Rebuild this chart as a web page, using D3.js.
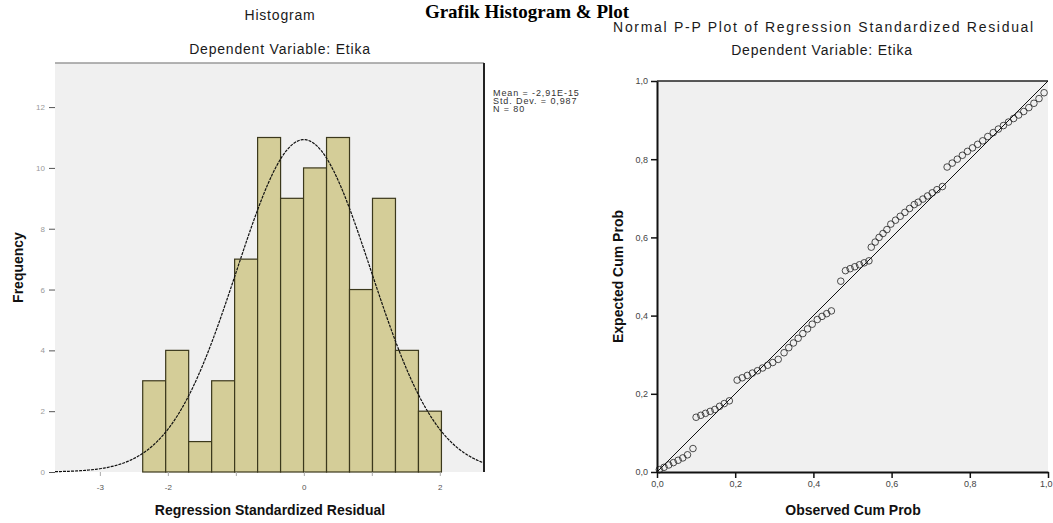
<!DOCTYPE html>
<html>
<head>
<meta charset="utf-8">
<script src="https://cdn.jsdelivr.net/npm/d3@7"></script>
<style>
  body { margin: 0; background: #fff; }
  svg text { font-family: "Liberation Sans", Arial, sans-serif; }
</style>
</head>
<body>
<svg id="chart" width="1053" height="523"></svg>
<script>
// histogram of regression standardized residual
const binStart = -2.37;
const binWidth = 0.338;
const binCounts = [3, 4, 1, 3, 7, 11, 9, 10, 11, 6, 9, 4, 2];
const histXTicks = [-3, -2, -1, 0, 1, 2];
const histXLabels = ['-3', '-2', '', '0', '', '2'];
const histYTicks = [0, 2, 4, 6, 8, 10, 12];
const statMean = -2.91e-15;
const statSd = 0.987;
const statN = 80;
const legendLines = ['Mean = -2,91E-15', 'Std. Dev. = 0,987', 'N = 80'];

// normal p-p plot, observed vs expected cum prob
const ppObserved = [
  0.006, 0.018, 0.03, 0.042, 0.054, 0.066, 0.078, 0.092,
  0.10, 0.112, 0.124, 0.136, 0.148, 0.16, 0.172, 0.185,
  0.205, 0.218, 0.231, 0.244, 0.257, 0.27, 0.283, 0.296, 0.31,
  0.325, 0.337, 0.349, 0.361, 0.373, 0.385, 0.397,
  0.41, 0.422, 0.434, 0.446,
  0.47,
  0.482, 0.494, 0.506, 0.518, 0.53, 0.542,
  0.548, 0.558, 0.568, 0.578, 0.588,
  0.598, 0.61, 0.622, 0.634, 0.646, 0.658,
  0.668, 0.68, 0.692, 0.704, 0.716, 0.73,
  0.742, 0.755, 0.768, 0.781, 0.794, 0.807, 0.82, 0.833, 0.846,
  0.86, 0.873, 0.886, 0.899, 0.912, 0.925, 0.938, 0.951, 0.964, 0.977, 0.99
];
const ppExpected = [
  0.006, 0.012, 0.018, 0.024, 0.03, 0.036, 0.044, 0.06,
  0.14, 0.145, 0.15, 0.155, 0.16, 0.168, 0.175, 0.182,
  0.235, 0.241, 0.247, 0.253, 0.259, 0.266, 0.273, 0.28, 0.288,
  0.305, 0.318, 0.33, 0.342, 0.354, 0.366, 0.378,
  0.39, 0.398, 0.405, 0.412,
  0.488,
  0.515, 0.52, 0.525, 0.53, 0.535, 0.54,
  0.575, 0.588, 0.6, 0.61, 0.62,
  0.634, 0.644, 0.654, 0.664, 0.674, 0.684,
  0.69, 0.698, 0.706, 0.714, 0.722, 0.73,
  0.78, 0.79, 0.8, 0.81, 0.82, 0.829, 0.838, 0.847, 0.858,
  0.868, 0.877, 0.886, 0.895, 0.904, 0.913, 0.922, 0.932, 0.943, 0.955, 0.97
];
const ppTicks = [0, 0.2, 0.4, 0.6, 0.8, 1];

const svg = d3.select('#chart');
const commaFmt = v => d3.format('.1f')(v).replace('.', ',');

svg.append('rect').attr('width', 1053).attr('height', 523).attr('fill', '#fff');

// page title
svg.append('text')
  .attr('x', 527).attr('y', 18)
  .attr('text-anchor', 'middle')
  .style('font-family', '"Liberation Serif", "Times New Roman", serif')
  .style('font-weight', 'bold')
  .style('font-size', '19px')
  .text('Grafik Histogram & Plot');

drawHistogram();
drawPPPlot();

// spss-ish title text: wide and slightly spaced
function titleText(g, x, y, str, spacing) {
  return g.append('text').attr('x', x).attr('y', y).attr('text-anchor', 'middle')
    .style('font-size', '14px').style('letter-spacing', spacing + 'px')
    .attr('fill', '#1a1a1a').text(str);
}

function drawHistogram() {
  const x = d3.scaleLinear().domain([-3.66, 2.65]).range([55, 484]);
  const y = d3.scaleLinear().domain([0, 13.45]).range([472, 63]);
  const g = svg.append('g');

  titleText(g, 280, 20, 'Histogram', 0.8);
  titleText(g, 280, 54, 'Dependent Variable: Etika', 0.8);

  g.append('rect')
    .attr('x', x.range()[0]).attr('y', y.range()[1])
    .attr('width', x.range()[1] - x.range()[0])
    .attr('height', y.range()[0] - y.range()[1])
    .attr('fill', '#f0f0f0');
  g.append('line')
    .attr('x1', x.range()[0]).attr('x2', x.range()[1])
    .attr('y1', y.range()[1]).attr('y2', y.range()[1])
    .attr('stroke', '#9a9a9a').attr('stroke-width', 1.5);

  // bars
  g.selectAll('rect.bar').data(binCounts).enter().append('rect')
    .attr('class', 'bar')
    .attr('x', (d, i) => x(binStart + i * binWidth))
    .attr('y', d => y(d))
    .attr('width', x(binStart + binWidth) - x(binStart))
    .attr('height', d => y(0) - y(d))
    .attr('fill', '#d4cd98')
    .attr('stroke', '#3b381c')
    .attr('stroke-width', 1.2);

  // fitted normal curve
  const scale = statN * binWidth / (statSd * Math.sqrt(2 * Math.PI));
  const xs = d3.range(x.domain()[0], x.domain()[1] + 0.001, 0.02);
  const line = d3.line()
    .x(v => x(v))
    .y(v => y(scale * Math.exp(-0.5 * Math.pow((v - statMean) / statSd, 2))));
  g.append('path').datum(xs).attr('d', line)
    .attr('fill', 'none').attr('stroke', '#111')
    .attr('stroke-width', 1.2).attr('stroke-dasharray', '3,1');

  // right border
  g.append('line')
    .attr('x1', x.range()[1]).attr('x2', x.range()[1])
    .attr('y1', y.range()[1]).attr('y2', y.range()[0])
    .attr('stroke', '#222').attr('stroke-width', 2);

  // y axis
  const ya = g.append('g').attr('transform', 'translate(' + x.range()[0] + ',0)')
    .call(d3.axisLeft(y).tickValues(histYTicks).tickSize(6).tickPadding(4));
  ya.select('.domain').remove();
  ya.selectAll('line').attr('stroke', '#555');
  ya.selectAll('text').attr('fill', '#9a9a9a').style('font-size', '8px');

  // x axis
  const xa = g.append('g').attr('transform', 'translate(0,' + y.range()[0] + ')')
    .call(d3.axisBottom(x).tickValues(histXTicks).tickSize(4).tickPadding(8)
      .tickFormat((d, i) => histXLabels[i]));
  xa.select('.domain').remove();
  xa.selectAll('line').attr('stroke', '#aaa');
  xa.selectAll('text').attr('fill', '#555').style('font-size', '8px');

  g.append('text').attr('x', 270).attr('y', 515).attr('text-anchor', 'middle')
    .style('font-size', '14px').style('font-weight', 'bold').attr('fill', '#111')
    .text('Regression Standardized Residual');
  g.append('text')
    .attr('transform', 'translate(23,' + (y.range()[0] + y.range()[1]) / 2 + ') rotate(-90)')
    .attr('text-anchor', 'middle')
    .style('font-size', '14px').style('font-weight', 'bold').attr('fill', '#111')
    .text('Frequency');

  // stats legend
  g.selectAll('text.legend').data(legendLines).enter().append('text')
    .attr('class', 'legend')
    .attr('x', 493).attr('y', (d, i) => 96 + i * 8)
    .style('font-size', '9px').style('letter-spacing', '0.9px').attr('fill', '#333')
    .text(d => d);
}

function drawPPPlot() {
  const x = d3.scaleLinear().domain([0, 1]).range([657, 1048]);
  const y = d3.scaleLinear().domain([0, 1]).range([472, 81]);
  const g = svg.append('g');

  titleText(g, 824, 32, 'Normal P-P Plot of Regression Standardized Residual', 1.7);
  titleText(g, 822, 55, 'Dependent Variable: Etika', 0.8);

  g.append('rect')
    .attr('x', x.range()[0]).attr('y', y.range()[1])
    .attr('width', x.range()[1] - x.range()[0])
    .attr('height', y.range()[0] - y.range()[1])
    .attr('fill', '#f0f0f0');
  g.append('line')
    .attr('x1', x.range()[0]).attr('x2', x.range()[1])
    .attr('y1', y.range()[1]).attr('y2', y.range()[1])
    .attr('stroke', '#222').attr('stroke-width', 1.5);

  // reference diagonal
  g.append('line')
    .attr('x1', x(0)).attr('y1', y(0)).attr('x2', x(1)).attr('y2', y(1))
    .attr('stroke', '#111').attr('stroke-width', 1);

  g.selectAll('circle').data(ppObserved).enter().append('circle')
    .attr('cx', d => x(d))
    .attr('cy', (d, i) => y(ppExpected[i]))
    .attr('r', 3.3)
    .attr('fill', 'none').attr('stroke', '#222').attr('stroke-width', 0.8);

  const xa = g.append('g').attr('transform', 'translate(0,' + y.range()[0] + ')')
    .call(d3.axisBottom(x).tickValues(ppTicks).tickFormat(commaFmt).tickSize(6).tickSizeOuter(0));
  xa.select('.domain').attr('stroke', '#111').attr('stroke-width', 2);
  xa.selectAll('line').attr('stroke', '#111').attr('stroke-width', 1.5);
  xa.selectAll('text').attr('fill', '#444').style('font-size', '9px');
  // last label sits at the page edge, keep it inside
  xa.selectAll('text').filter(d => d === 1).attr('text-anchor', 'end').attr('dx', '4');

  const ya = g.append('g').attr('transform', 'translate(' + x.range()[0] + ',0)')
    .call(d3.axisLeft(y).tickValues(ppTicks).tickFormat(commaFmt).tickSize(6).tickSizeOuter(0));
  ya.select('.domain').attr('stroke', '#111').attr('stroke-width', 2);
  ya.selectAll('line').attr('stroke', '#111').attr('stroke-width', 1.5);
  ya.selectAll('text').attr('fill', '#444').style('font-size', '9px');

  g.append('text').attr('x', 853).attr('y', 515).attr('text-anchor', 'middle')
    .style('font-size', '14px').style('font-weight', 'bold').attr('fill', '#111')
    .text('Observed Cum Prob');
  g.append('text')
    .attr('transform', 'translate(623,' + (y.range()[0] + y.range()[1]) / 2 + ') rotate(-90)')
    .attr('text-anchor', 'middle')
    .style('font-size', '14px').style('font-weight', 'bold').attr('fill', '#111')
    .text('Expected Cum Prob');
}
</script>
</body>
</html>
